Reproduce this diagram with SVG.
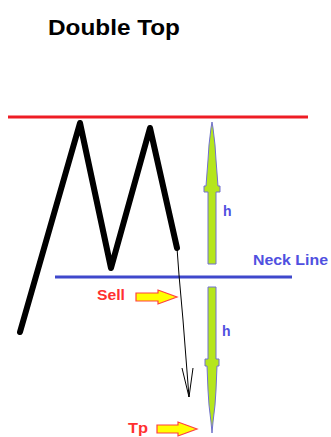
<svg xmlns="http://www.w3.org/2000/svg" width="331" height="437" viewBox="0 0 331 437">
<style>
.t{font-family:"Liberation Sans",Arial,sans-serif;font-weight:bold}
.blue{fill:#5050e0}
.red{fill:#ff3030}
.ga{fill:#b5e61d;stroke:#7070d0;stroke-width:1}
.ya{fill:#ffff00;stroke:#ff4040;stroke-width:1.2}
</style>
<rect width="331" height="437" fill="#fff"/>
<g id="title"><text class="t" x="48" y="35" font-size="22" textLength="132" lengthAdjust="spacingAndGlyphs" fill="#000">Double Top</text></g>
<g id="connectors">
<line x1="8" y1="117" x2="308" y2="117" stroke="#ee1c24" stroke-width="3"/>
<line x1="55" y1="277" x2="292" y2="277" stroke="#3f48cc" stroke-width="3"/>
<polyline points="20,332 80,123 111,268 150,128 177,248" fill="none" stroke="#000" stroke-width="6" stroke-linejoin="round" stroke-linecap="round"/>
<polyline points="177,248 179,275 183,320 189,397" fill="none" stroke="#000" stroke-width="1"/>
<polyline points="182,368 189,397 193,368" fill="none" stroke="#000" stroke-width="1"/>
</g>
<g id="neckline-label"><text class="t blue" x="253" y="265" font-size="15" textLength="75" lengthAdjust="spacingAndGlyphs">Neck Line</text></g>
<g id="arrow-up">
<polygon class="ga" points="208,264 216,264 216,192 220,192 220,186 218,186 216,160 215,145 213,128 212,122 211,128 209,145 208,160 206,186 204,186 204,192 208,192"/>
<text class="t blue" x="223" y="216" font-size="14">h</text>
</g>
<g id="arrow-down">
<polygon class="ga" points="208,287 216,287 216,359 219,359 219,366 217,366 216,390 215,405 213,422 212,433 211,422 209,405 208,390 207,366 205,366 205,359 208,359"/>
<text class="t blue" x="222" y="336" font-size="14">h</text>
</g>
<g id="sell">
<text class="t red" x="97" y="300" font-size="15" textLength="28" lengthAdjust="spacingAndGlyphs">Sell</text>
<polygon class="ya" points="136,293 158,293 158,290 177,297 158,304 158,301 136,301"/>
</g>
<g id="tp">
<text class="t red" x="128" y="433" font-size="14" textLength="20" lengthAdjust="spacingAndGlyphs">Tp</text>
<polygon class="ya" points="157,425 178,425 178,422 197,429 178,436 178,433 157,433"/>
</g>
</svg>
